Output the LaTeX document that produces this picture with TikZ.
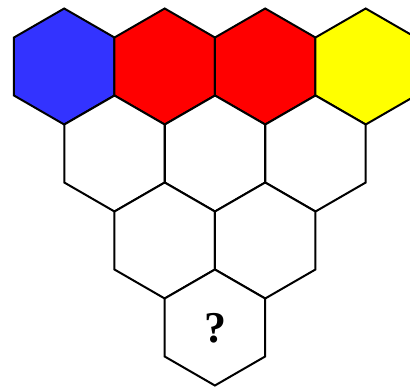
\documentclass[tikz,border=0pt]{standalone}
\usepackage{fontspec}
\newfontfamily\qfont{Liberation Serif}
\usetikzlibrary{shapes.geometric}
\definecolor{hexblue}{RGB}{51,51,255}
\definecolor{hexred}{RGB}{255,0,0}
\definecolor{hexyellow}{RGB}{255,255,0}
\tikzset{
  hexcell/.style={regular polygon, regular polygon sides=6, shape border rotate=30,
    minimum size=116pt, inner sep=0pt, outer sep=0pt, draw=black, line width=2pt,
    line join=miter, fill=white},
  qmark/.style={font=\qfont\fontsize{44}{44}\selectfont\bfseries}
}
\begin{document}
\begin{tikzpicture}[x=1pt,y=-1pt]
\useasboundingbox (0,0) rectangle (410,386);
\clip (0,0) rectangle (410,386);
% row 1
\node[hexcell, fill=hexblue]   (h11) at (64.2,66.5) {};
\node[hexcell, fill=hexred]    (h12) at (164.7,66.5) {};
\node[hexcell, fill=hexred]    (h13) at (265.2,66.5) {};
\node[hexcell, fill=hexyellow] (h14) at (365.7,66.5) {};
% row 2
\node[hexcell] (h21) at (114.5,153.5) {};
\node[hexcell] (h22) at (215.0,153.5) {};
\node[hexcell] (h23) at (315.5,153.5) {};
% row 3
\node[hexcell] (h31) at (164.7,240.5) {};
\node[hexcell] (h32) at (265.2,240.5) {};
% row 4
\node[hexcell] (h41) at (214.9,327.5) {};
\node[qmark, inner sep=0pt] (q) at (215.5,328) {?};
\end{tikzpicture}
\end{document}
